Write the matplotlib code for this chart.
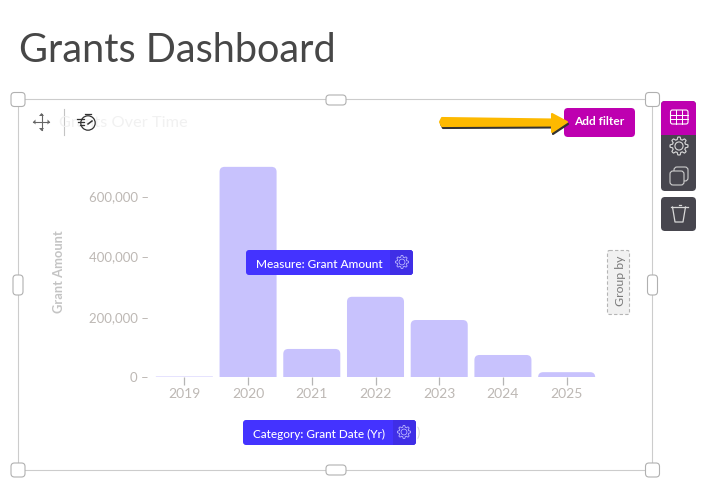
import matplotlib
matplotlib.use('Agg')
import matplotlib.pyplot as plt
import numpy as np
from matplotlib.patches import FancyBboxPatch, Polygon, Circle, Rectangle

W, H = 728, 499

years = ['2019', '2020', '2021', '2022', '2023', '2024', '2025']
grant_amount = [1500, 697000, 93000, 266000, 189000, 73000, 16000]
y_ticks = [0, 200000, 400000, 600000]

plt.rcParams['font.family'] = ['Lato', 'DejaVu Sans']

fig = plt.figure(figsize=(W / 100, H / 100), dpi=100, facecolor='white')

# overlay in pixel coordinates for the editor widgets
ui = fig.add_axes([0, 0, 1, 1], zorder=3)
ui.set_xlim(0, W)
ui.set_ylim(H, 0)
ui.axis('off')
ui.patch.set_alpha(0)

# chart itself
ax = fig.add_axes([152.5 / W, 1 - 377 / H, 446 / W, 217 / H], zorder=2)
ax.patch.set_alpha(0)
ax.set_xlim(-0.5, 6.5)
ax.set_ylim(0, 217 / 60.3 * 200000)
bars = ax.bar(years, grant_amount, width=0.895, color='#c8c2fd')

# swap the square bars for ones with rounded tops, the bottoms get clipped at zero
units_per_px_x = 7 / 446
units_per_px_y = (217 / 60.3 * 200000) / 217
for b, v in zip(bars, grant_amount):
    b.set_visible(False)
    r = 5 * units_per_px_x if v > 10000 else 0.2 * units_per_px_x
    ax.add_patch(FancyBboxPatch((b.get_x(), -40000), b.get_width(), v + 40000,
                                boxstyle=f'round,pad=0,rounding_size={r}',
                                mutation_aspect=units_per_px_y / units_per_px_x,
                                fc='#c8c2fd', ec='none'))

ax.set_yticks(y_ticks)
ax.set_yticklabels([f'{v:,} –' for v in y_ticks])
ax.tick_params(axis='y', length=0, labelcolor='#bdb8b4', labelsize=9.5, pad=2.5)
ax.tick_params(axis='x', length=6, width=0.9, color='#b5b5b5', labelcolor='#bdb8b4',
               labelsize=10, pad=2)
for s in ax.spines.values():
    s.set_visible(False)
ui.text(59, 272, 'Grant Amount', rotation=90, color='#c4c4c4', fontsize=9.3,
        fontweight='bold', ha='center', va='center')


def box(x0, y0, x1, y1, color, r=3, ec='none', lw=0, ls='-', z=2):
    p = FancyBboxPatch((x0 + r, y0 + r), x1 - x0 - 2 * r, y1 - y0 - 2 * r,
                       boxstyle=f'round,pad={r},rounding_size={r}',
                       fc=color, ec=ec, lw=lw, ls=ls, zorder=z)
    ui.add_patch(p)


def gear(cx, cy, r, color, lw=0.8):
    # eight toothed outline with a round hole
    a = np.linspace(0, 2 * np.pi, 97)
    rad = r * (0.87 + 0.13 * np.clip(2.2 * np.cos(8 * a), -1, 1))
    ui.add_patch(Polygon(np.c_[cx + rad * np.cos(a), cy + rad * np.sin(a)], fc='none', ec=color,
                         lw=lw, zorder=6))
    ui.add_patch(Circle((cx, cy), r * 0.45, fc='none', ec=color, lw=lw, zorder=6))


# page title
ui.text(19, 50, 'Grants Dashboard', fontsize=28.5, color='#474747', ha='left', va='center')

# frame and resize handles
ui.add_patch(Rectangle((18, 99), 634, 371, fc='none', ec='#cccccc', lw=0.8, zorder=1))
for cx, cy in [(18, 99.5), (652.5, 99.5), (18, 470), (652.5, 470)]:
    box(cx - 7, cy - 7, cx + 7, cy + 7, 'white', r=3.5, ec='#b0b0b0', lw=0.8, z=4)
for cx, cy in [(336, 100), (336, 470)]:
    box(cx - 10, cy - 5, cx + 10, cy + 5, 'white', r=3.5, ec='#b0b0b0', lw=0.8, z=4)
for cx, cy in [(18, 285), (652.5, 285)]:
    box(cx - 5, cy - 10, cx + 5, cy + 10, 'white', r=3.5, ec='#b0b0b0', lw=0.8, z=4)

# faded chart name with the move and timer icons on top
ui.text(59, 122.5, 'Grants Over Time', fontsize=11.8, color='#f1f1f1', ha='left', va='center')
ui.plot([63.5, 63.5], [109, 135], color='#c4c4c4', lw=0.8)
ui.plot([33, 49], [122, 122], color='#666666', lw=0.8)
ui.plot([41.5, 41.5], [114, 130], color='#666666', lw=0.8)
for pts in [[(33, 122), (35.5, 119.5), (35.5, 124.5)], [(50, 122), (47.5, 119.5), (47.5, 124.5)],
            [(41.5, 113), (39, 116), (44, 116)], [(41.5, 131), (39, 128), (44, 128)]]:
    ui.add_patch(Polygon(pts, fc='#666666', ec='none'))
ui.add_patch(Circle((88, 123), 7.2, fc='none', ec='#333333', lw=0.9, zorder=6))
ui.plot([85, 91], [113.5, 113.5], color='#333333', lw=0.9, zorder=6)
ui.plot([77, 84], [119, 119], color='#333333', lw=0.9, zorder=6)
ui.plot([78, 84], [122, 122], color='#333333', lw=0.9, zorder=6)
ui.plot([80, 84], [125, 125], color='#333333', lw=0.9, zorder=6)
ui.plot([88, 92], [124, 121], color='#333333', lw=1.1, zorder=6)

# add filter button
box(564, 108, 635, 137, '#be00b0', r=4)
ui.text(599.5, 121.5, 'Add filter', fontsize=8.6, color='white', fontweight='bold',
        ha='center', va='center', zorder=5)

# arrow pointing at the button, tail rounded on the left
arrow = [(442, 118), (552, 119.5), (552, 114), (567, 122), (552, 132), (552, 125.5), (442, 126), (440, 122)]
ui.add_patch(Polygon([(x + 1, y + 2) for x, y in arrow], fc='#333333', ec='#333333', lw=1.5,
                     zorder=3, joinstyle='round'))
ui.add_patch(Polygon(arrow, fc='#fdb900', ec='#fdb900', lw=1.5, zorder=4, joinstyle='round'))

# side toolbar
box(661, 101, 696, 191, '#47464e', r=4)
box(661, 101, 696, 135, '#be00b0', r=4)
ui.add_patch(Rectangle((661, 128), 35, 7, fc='#be00b0', ec='none', zorder=3))
box(661, 197, 696, 231, '#47464e', r=4)
box(670.5, 110, 688, 124, 'none', r=2, ec='white', lw=0.8, z=5)
for gx in [676.3, 682.2]:
    ui.plot([gx, gx], [110, 124], color='white', lw=0.7, zorder=5)
for gy in [114.7, 119.4]:
    ui.plot([670.5, 688], [gy, gy], color='white', lw=0.7, zorder=5)
gear(679, 146, 9, '#d8d8d8')
box(674, 167, 688, 181, '#47464e', r=3, ec='#cfcfcf', lw=0.8, z=5)
box(670, 171, 684, 185, '#47464e', r=3, ec='#cfcfcf', lw=0.8, z=6)
ui.plot([671, 688], [207, 207], color='#d8d8d8', lw=0.9, zorder=5)
ui.plot([678.5, 680.5], [205, 205], color='#d8d8d8', lw=0.9, zorder=5)
ui.plot([672.5, 675, 683, 685.5], [207, 222, 222, 207], color='#d8d8d8', lw=0.9, zorder=5)

# measure and category pills
box(246, 250, 413, 275, '#4433ff', r=3, z=4)
ui.add_patch(Rectangle((390, 250), 20, 25, fc='#3f2ee6', ec='none', zorder=4))
box(400, 250, 413, 275, '#3f2ee6', r=3, z=4)
ui.text(255.5, 264, 'Measure: Grant Amount', fontsize=8.6, color='white', ha='left',
        va='center', zorder=5, fontweight='medium')
gear(402, 262, 6.5, '#b9b4ff', lw=0.6)

ui.text(418, 433, ')', fontsize=9, color='#d8d8d8', ha='center', va='center', zorder=2)
box(243, 420, 416, 445, '#4433ff', r=3, z=4)
ui.add_patch(Rectangle((393, 420), 15, 25, fc='#3f2ee6', ec='none', zorder=4))
box(403, 420, 416, 445, '#3f2ee6', r=3, z=4)
ui.text(253, 434, 'Category: Grant Date (Yr)', fontsize=8.5, color='white', ha='left',
        va='center', zorder=5, fontweight='medium')
gear(404, 432, 6.5, '#b9b4ff', lw=0.6)

# group by drop zone
box(607.5, 250.5, 629.5, 314.5, '#f1f1f1', r=2, ec='#b5b5b5', lw=0.8, ls=(0, (3, 2)))
ui.text(620.5, 281, 'Group by', fontsize=8.8, rotation=90, color='#7a7a7a', ha='center',
        va='center', zorder=5)

fig.savefig('out.png', dpi=100)
